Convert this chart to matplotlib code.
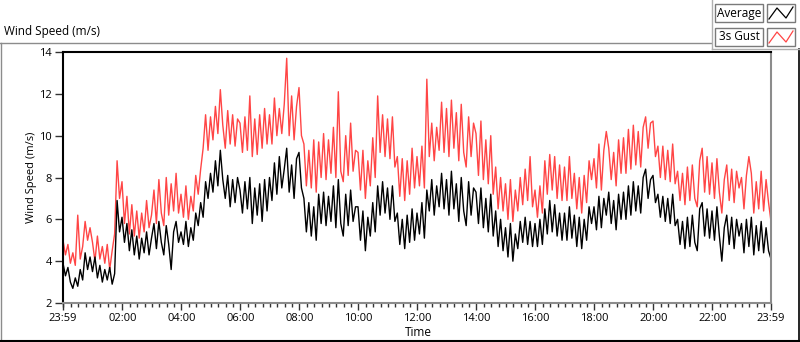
import matplotlib
matplotlib.use('Agg')
import matplotlib.pyplot as plt
from matplotlib.lines import Line2D
from matplotlib.patches import Rectangle

plt.rcParams['font.family'] = ['Open Sans', 'DejaVu Sans']

# minutes after 23:59, one reading every 5 minutes
minutes = list(range(0, 1441, 5))

avg_speed = [
    3.9, 3.3, 3.7, 3.0, 2.7, 3.2, 2.8, 3.6, 3.1, 4.4, 3.6, 4.2,   # 00
    3.5, 4.2, 3.2, 3.8, 3.0, 3.6, 3.1, 3.7, 2.9, 3.4, 6.9, 5.4,   # 01
    6.1, 4.9, 5.8, 4.5, 5.5, 4.3, 5.2, 4.1, 5.1, 4.4, 5.4, 4.3,   # 02
    5.1, 5.8, 4.6, 5.9, 4.9, 4.3, 5.7, 4.8, 3.6, 5.4, 5.9, 4.9,   # 03
    5.4, 4.8, 5.9, 4.7, 5.6, 5.0, 6.3, 5.7, 6.8, 6.1, 7.8, 7.0,   # 04
    8.2, 7.3, 8.8, 7.6, 9.3, 7.9, 7.0, 8.1, 6.6, 7.9, 6.8, 8.0,   # 05
    7.4, 6.3, 7.8, 6.5, 8.0, 5.8, 7.5, 6.2, 7.7, 5.9, 7.9, 6.4,   # 06
    8.0, 6.9, 8.7, 7.2, 9.0, 7.5, 8.4, 9.4, 7.3, 8.6, 7.0, 8.9,   # 07
    9.2, 7.5, 7.0, 5.4, 6.8, 5.2, 6.6, 5.0, 7.2, 5.8, 7.3, 5.7,   # 08
    7.1, 5.9, 7.6, 5.6, 7.9, 5.8, 5.2, 7.2, 5.7, 7.4, 5.9, 6.6,   # 09
    6.6, 5.0, 6.4, 4.5, 6.1, 5.2, 6.8, 5.4, 7.6, 6.2, 7.8, 6.3,   # 10
    7.5, 6.0, 7.6, 5.9, 6.3, 4.8, 6.0, 4.6, 6.2, 4.9, 6.5, 5.0,   # 11
    6.3, 5.3, 6.8, 5.1, 7.4, 6.4, 7.9, 6.2, 7.6, 6.6, 8.2, 6.5,   # 12
    7.9, 6.2, 8.3, 6.5, 7.7, 5.9, 8.0, 6.4, 5.7, 7.8, 6.2, 7.5,   # 13
    7.3, 5.8, 7.5, 5.6, 7.0, 5.4, 7.2, 5.2, 6.4, 4.7, 6.0, 4.5,   # 14
    5.6, 4.2, 5.8, 4.0, 5.3, 4.6, 5.9, 4.9, 6.1, 4.8, 5.9, 4.7,   # 15
    5.8, 4.7, 6.0, 4.8, 6.5, 5.3, 6.9, 5.4, 6.7, 5.2, 6.3, 5.0,   # 16
    6.3, 5.0, 6.6, 5.1, 6.2, 4.7, 6.1, 4.6, 6.0, 5.0, 6.6, 5.8,   # 17
    6.6, 5.5, 7.1, 5.6, 7.0, 6.2, 7.3, 5.8, 6.9, 5.5, 7.2, 6.0,   # 18
    7.3, 6.0, 7.6, 6.2, 7.8, 6.4, 7.6, 6.3, 8.0, 8.4, 7.0, 7.9,   # 19
    8.1, 6.8, 7.2, 6.1, 7.1, 5.9, 7.0, 5.8, 7.2, 5.7, 6.0, 4.8,   # 20
    5.9, 4.6, 6.1, 4.7, 6.2, 4.9, 4.5, 6.5, 6.8, 5.2, 6.5, 5.1,   # 21
    6.4, 5.0, 6.6, 5.2, 4.0, 5.6, 6.2, 4.8, 6.1, 4.6, 6.0, 5.2,   # 22
    5.8, 4.4, 6.0, 4.7, 6.1, 4.3, 5.7, 4.5, 5.9, 4.4, 5.6, 4.5,   # 23
    4.1,
]

gust_speed = [
    5.0, 4.3, 4.8, 3.9, 4.4, 3.8, 6.2, 4.1, 4.7, 5.9, 5.0, 5.6,
    4.9, 4.0, 5.2, 4.1, 4.7, 3.9, 4.8, 3.6, 4.5, 5.3, 8.8, 7.0,
    7.8, 5.8, 7.1, 5.3, 6.7, 5.2, 6.4, 5.1, 6.3, 5.4, 6.9, 5.6,
    6.2, 7.4, 5.8, 7.9, 6.3, 5.7, 8.0, 6.2, 7.7, 6.4, 8.2, 6.3,
    7.2, 6.1, 7.6, 6.0, 7.1, 6.4, 8.1, 7.2, 8.4, 9.4, 11.0, 9.3,
    10.9, 9.8, 11.4, 10.1, 12.2, 10.5, 9.4, 11.2, 9.6, 11.0, 9.5, 10.8,
    10.6, 9.2, 10.9, 9.3, 11.9, 9.0, 10.8, 9.1, 11.0, 9.4, 11.3, 9.6,
    11.0, 9.6, 11.8, 10.0, 11.3, 10.1, 11.5, 13.7, 10.0, 11.9, 9.8, 11.4,
    12.3, 10.0, 9.6, 7.6, 9.3, 7.5, 9.8, 7.3, 9.7, 8.0, 10.1, 7.9,
    9.8, 8.2, 10.4, 8.0, 12.1, 8.3, 7.8, 10.0, 8.1, 10.6, 8.3, 9.3,
    9.2, 7.4, 9.3, 7.0, 8.8, 7.6, 9.9, 8.0, 11.9, 9.2, 11.0, 9.0,
    10.8, 8.9, 10.9, 8.5, 9.0, 7.1, 8.9, 6.9, 8.8, 7.2, 9.4, 7.5,
    9.0, 7.6, 9.5, 7.5, 12.7, 9.0, 10.6, 8.8, 10.4, 9.3, 11.6, 9.2,
    11.3, 9.0, 11.7, 9.4, 11.1, 8.8, 11.5, 9.2, 8.5, 10.9, 9.0, 10.6,
    10.1, 8.1, 10.7, 7.9, 9.8, 7.7, 10.0, 7.2, 8.5, 6.5, 8.0, 6.4,
    7.7, 6.0, 7.9, 5.9, 7.4, 6.4, 8.0, 6.7, 8.4, 6.9, 9.0, 6.6,
    7.4, 6.1, 7.6, 6.3, 8.8, 7.2, 9.1, 7.4, 9.0, 7.0, 8.6, 6.9,
    8.5, 6.9, 9.0, 7.0, 8.2, 6.5, 8.0, 6.3, 8.1, 6.8, 8.8, 7.9,
    8.9, 7.5, 9.6, 7.4, 9.3, 10.2, 9.4, 7.9, 9.2, 7.6, 9.8, 8.2,
    9.9, 8.2, 10.3, 8.4, 10.5, 8.6, 10.2, 8.5, 10.4, 10.9, 9.4, 10.6,
    10.7, 9.0, 9.5, 8.0, 9.5, 7.9, 9.3, 7.8, 9.6, 7.7, 8.3, 6.9,
    8.2, 6.7, 8.5, 6.9, 8.6, 7.0, 6.6, 8.8, 9.4, 7.3, 9.0, 7.2,
    8.7, 7.0, 8.9, 7.3, 6.3, 7.9, 8.6, 6.9, 8.4, 6.8, 8.3, 7.5,
    8.0, 6.5, 8.1, 9.0, 8.2, 6.3, 7.8, 6.5, 8.3, 6.4, 7.9, 6.8,
    5.9,
]

tick_minutes = [0, 121, 241, 361, 481, 601, 721, 841, 961, 1081, 1201, 1321, 1440]
tick_labels = ['23:59', '02:00', '04:00', '06:00', '08:00', '10:00', '12:00',
               '14:00', '16:00', '18:00', '20:00', '22:00', '23:59']
y_ticks = [2, 4, 6, 8, 10, 12, 14]

W, H = 800, 342
fig = plt.figure(figsize=(8, 3.42), dpi=100)
fig.patch.set_facecolor('white')


def fx(px):
    return px / W


def fy(py):
    return 1 - py / H


def fline(xs, ys, color, lw=1.0):
    fig.add_artist(Line2D([fx(x) for x in xs], [fy(y) for y in ys],
                          transform=fig.transFigure, color=color, lw=lw))


ax = fig.add_axes([fx(63), fy(303), (771 - 63) / W, (303 - 52) / H])

ax.plot(minutes, gust_speed, color='#ff4545', lw=1.0)
ax.plot(minutes, avg_speed, color='black', lw=1.0)

ax.set_xlim(0, 1440)
ax.set_ylim(2, 14)
ax.set_xticks(tick_minutes)
ax.set_xticklabels(tick_labels, fontsize=8)
ax.set_xticks([1 + 15 * k for k in range(96)], minor=True)
ax.set_yticks(y_ticks)
ax.set_yticklabels([str(v) for v in y_ticks], fontsize=8)
ax.tick_params(axis='x', which='major', length=5, width=1, color='#333', pad=2)
ax.tick_params(axis='x', which='minor', length=3, width=1, color='#333')
ax.tick_params(axis='y', which='major', length=6, width=1, color='#333', pad=2)

ax.spines['top'].set_color('black')
ax.spines['left'].set_color('black')
ax.spines['top'].set_linewidth(1.5)
ax.spines['left'].set_linewidth(1.5)
ax.spines['bottom'].set_color('#8c8c8c')
ax.spines['right'].set_color('#8c8c8c')
ax.spines['bottom'].set_linewidth(1.5)
ax.spines['right'].set_linewidth(1.5)

ax.set_ylabel('Wind Speed (m/s)', fontsize=8)
ax.yaxis.set_label_coords((37 - 63) / 708, 0.5)
ax.set_xlabel('Time', fontsize=8.5, va='center')
ax.xaxis.set_label_coords((418 - 63) / 708, -(333 - 303) / 251)

# panel header and frame
fig.text(fx(4), fy(32), 'Wind Speed (m/s)', fontsize=8.5, va='center', ha='left')
fline([0, 711], [42.5, 42.5], '#8c8c8c')
fline([0.5, 0.5], [42.5, 341], '#8c8c8c')
fline([0, 799], [340.5, 340.5], 'black', lw=1.5)
fline([798.5, 798.5], [49, 341], 'black', lw=1.2)
fline([711.5, 711.5], [0, 49], '#b0b0b0')
fline([711.5, 800], [49, 49], '#b0b0b0')

# legend boxes
legend_names = ['Average', '3s Gust']
legend_colors = ['black', '#ff4545']
for i, (name, col) in enumerate(zip(legend_names, legend_colors)):
    top = 4 + 24 * i
    for x0, x1 in [(715, 763), (767, 795)]:
        fig.add_artist(Rectangle((fx(x0), fy(top + 18)), (x1 - x0) / W, 18 / H,
                                 transform=fig.transFigure, facecolor='white',
                                 edgecolor='#7a7a7a', lw=1.0))
    fig.text(fx(739), fy(top + 9), name, fontsize=8.5, ha='center', va='center')
    fline([769, 777, 786, 793], [top + 15, top + 4, top + 14, top + 3], col, lw=0.9)

plt.savefig('out.png', dpi=100, facecolor='white')
